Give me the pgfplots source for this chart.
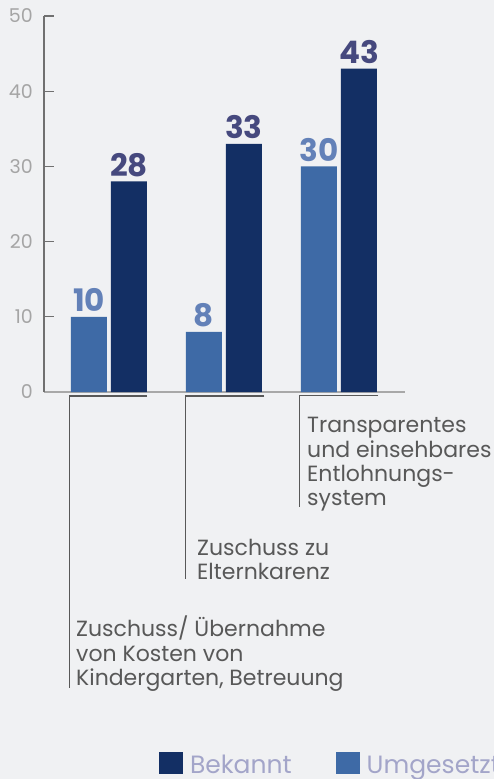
\documentclass[border=0pt]{standalone}
\usepackage{fontspec}
\setmainfont{Poppins}
\usepackage{pgfplots}
\pgfplotsset{compat=1.18}
\definecolor{bgc}{RGB}{240,241,243}
\definecolor{umg}{RGB}{62,106,166}
\definecolor{bek}{RGB}{19,47,100}
\definecolor{umgl}{RGB}{99,129,184}
\definecolor{bekl}{RGB}{70,73,126}
\definecolor{tickc}{RGB}{165,165,165}
\definecolor{yaxc}{RGB}{112,112,112}
\definecolor{xaxc}{RGB}{168,168,168}
\definecolor{labc}{RGB}{88,88,88}
\definecolor{legc}{RGB}{163,165,201}
\begin{document}
\begin{tikzpicture}
\fill[bgc] (0pt,0pt) rectangle (494pt,779pt);
\useasboundingbox (0pt,0pt) rectangle (494pt,779pt);
\clip (0pt,0pt) rectangle (494pt,779pt);
\begin{axis}[
  at={(44pt,387pt)}, anchor=south west,
  scale only axis, width=361pt, height=376pt,
  xmin=-0.565, xmax=2.574, ymin=0, ymax=50,
  axis lines*=left,
  x axis line style={color=xaxc, line width=1.5pt},
  y axis line style={color=yaxc, line width=1.5pt},
  xtick=\empty,
  ytick={0,10,20,30,40,50},
  tick align=inside,
  major tick length=10pt,
  ytick style={color=yaxc, line width=1.3pt},
  /pgf/number format/assume math mode=true,
  yticklabel style={anchor=east, inner sep=0pt, xshift=-11pt, text=tickc, font=\fontsize{19}{22}\selectfont},
  ybar, bar width=36pt,
  clip=false,
  nodes near coords,
  every node near coord/.append style={anchor=base, inner sep=0pt, yshift=5pt, font=\fontsize{31}{34}\selectfont\bfseries},
  legend columns=2,
  reverse legend,
  legend image code/.code={\fill[#1] (0pt,0pt) rectangle (24pt,22pt);},
  legend style={at={(0.3186,-1.019)}, anchor=south west, draw=none, fill=none, inner sep=0pt, outer sep=0pt,
    nodes={inner sep=0pt, anchor=base west, text=legc, font=\fontsize{25}{28}\selectfont},
    column sep=7pt,
    /tikz/every even column/.append style={column sep=44pt}},
]
\addplot[fill=umg, draw=none, bar shift=-20pt, every node near coord/.append style={text=umgl}]
  coordinates {(0,10) (1,8) (2,30)};
\addlegendentry{Umgesetzt}
\addplot[fill=bek, draw=none, bar shift=20pt, every node near coord/.append style={text=bekl}]
  coordinates {(0,28) (1,33) (2,43)};
\addlegendentry{Bekannt}
\end{axis}
\begin{scope}[labc, line width=1.4pt]
\draw (147pt,383pt) -- (69.5pt,383pt) -- (69.5pt,91pt);
\draw (264pt,383pt) -- (185.7pt,383pt) -- (185.7pt,200pt);
\draw (378pt,383.5pt) -- (299.5pt,383.5pt) -- (299.5pt,272pt);
\end{scope}
\begin{scope}[every node/.style={anchor=base west, inner sep=0pt, text=labc, font=\fontsize{22}{24}\selectfont}]
\node at (76pt,142pt) {Zuschuss/ Übernahme};
\node at (76pt,117.3pt) {von Kosten von};
\node at (76pt,93pt) {Kindergarten, Betreuung};
\node at (197pt,223.3pt) {Zuschuss zu};
\node at (197pt,199pt) {Elternkarenz};
\node at (307pt,346pt) {Transparentes};
\node at (307pt,321.7pt) {und einsehbares};
\node at (307pt,297.4pt) {Entlohnungs-};
\node at (307pt,273.1pt) {system};
\end{scope}
\end{tikzpicture}
\end{document}
